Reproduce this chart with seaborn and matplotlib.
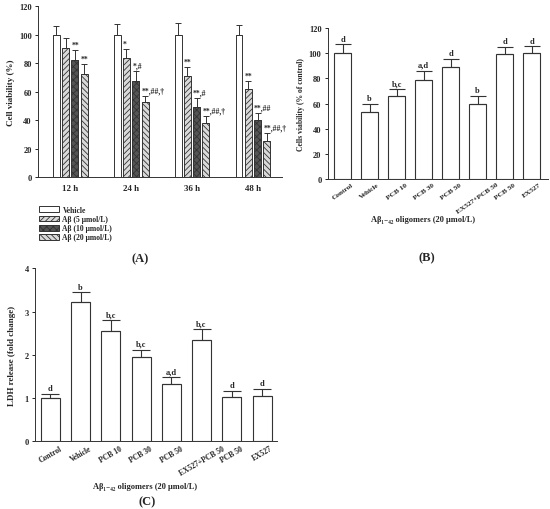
import matplotlib
matplotlib.use("Agg")
import matplotlib.pyplot as plt
from matplotlib.patches import Patch
import numpy as np
import pandas as pd
import seaborn as sns

# ---- panel A: viability over time ----
times = ["12 h", "24 h", "36 h", "48 h"]
groups_a = ["Vehicle", "Aβ (5 μmol/L)", "Aβ (10 μmol/L)", "Aβ (20 μmol/L)"]
viab_a = [[100, 100, 100, 100],
          [90.9, 83.7, 70.7, 61.5],
          [82.2, 67.2, 49.0, 39.7],
          [72.6, 52.4, 37.6, 25.6]]
err_a = [[6.3, 7.5, 8.0, 7.0],
         [7.0, 6.3, 6.3, 6.0],
         [7.0, 7.5, 6.3, 5.0],
         [6.5, 4.7, 5.4, 5.6]]
marks_a = [["", "", "", ""],
           ["", "*", "**", "**"],
           ["**", "*,#", "**,#", "**,##"],
           ["**", "**,##,†", "**,##,†", "**,##,†"]]

# ---- panels B and C: treatments ----
treatments = ["Control", "Vehicle", "PCB 10", "PCB 30", "PCB 50",
              "EX527+PCB 50", "PCB 50", "EX527"]
viab_b = [100, 53, 65.7, 78.4, 88.7, 59.3, 99.3, 99.9]
err_b = [7, 7, 6, 7.7, 7, 7, 6, 5.5]
letters_b = ["d", "b", "b,c", "a,d", "d", "b", "d", "d"]

ldh_c = [1.0, 3.21, 2.56, 1.94, 1.32, 2.34, 1.02, 1.05]
err_c = [0.09, 0.23, 0.24, 0.18, 0.16, 0.26, 0.14, 0.16]
letters_c = ["d", "b", "b,c", "b,c", "a,d", "b,c", "d", "d"]

sns.set_theme(style="ticks")
plt.rcParams["font.family"] = ["Liberation Serif", "DejaVu Serif"]
plt.rcParams["font.weight"] = "bold"
plt.rcParams["hatch.linewidth"] = 0.6
edge = "#333333"

fig = plt.figure(figsize=(5.5, 5.1), dpi=100)

# ---------------- A ----------------
axA = fig.add_axes([0.069, 0.651, 0.444, 0.335])
dfA = pd.DataFrame([(t, g, viab_a[j][i]) for j, g in enumerate(groups_a)
                    for i, t in enumerate(times)], columns=["time", "group", "val"])
sns.barplot(data=dfA, x="time", y="val", hue="group", order=times, hue_order=groups_a,
            palette=["white"] * 4, errorbar=None, width=0.61, gap=0.25,
            edgecolor=edge, linewidth=0.7, legend=False, ax=axA)
styles = [("white", ""), ("#d9d9d9", "//////"), ("#555555", "xxxxx"), ("#d9d9d9", "\\\\\\\\\\\\")]
bar_conts = list(axA.containers)[:4]
for j, cont in enumerate(bar_conts):
    fc, h = styles[j]
    for i, p in enumerate(cont.patches):
        p.set_facecolor(fc)
        p.set_hatch(h)
        p.set_edgecolor(edge)
        xc = p.get_x() + p.get_width() / 2
        top = p.get_height()
        axA.errorbar(xc, top, yerr=[[0], [err_a[j][i]]], fmt="none", ecolor=edge,
                     elinewidth=0.7, capsize=2.5, capthick=0.7)
        if marks_a[j][i]:
            axA.text(p.get_x(), top + err_a[j][i] + 1, marks_a[j][i], ha="left",
                     va="bottom", fontsize=5.5, fontweight="bold")
axA.set_xlim(-0.53, 3.48)
axA.set_ylim(0, 120)
axA.set_yticks(range(0, 121, 20))
axA.set_xlabel("")
axA.set_ylabel("Cell viability (%)", fontsize=6.5, fontweight="bold", labelpad=3)
axA.tick_params(axis="y", labelsize=6, length=2.5, width=0.7, pad=2)
axA.tick_params(axis="x", labelsize=6.5, length=0, pad=5)
sns.despine(ax=axA)
for s in ["left", "bottom"]:
    axA.spines[s].set_linewidth(0.7)
    axA.spines[s].set_color(edge)

handles = [Patch(facecolor=fc, hatch=h, edgecolor=edge, linewidth=0.7) for fc, h in styles]
fig.legend(handles, groups_a, loc="upper left", bbox_to_anchor=(0.065, 0.6),
           frameon=False, fontsize=5.5, handlelength=2.6, handleheight=0.8,
           labelspacing=0.15, handletextpad=0.5, borderaxespad=0)
fig.text(0.255, 0.492, "(A)", ha="center", va="center", fontsize=9, fontweight="bold")


def treatment_panel(ax, vals, errs, letters, capsize, ymax, ystep, letter_off, rot, tsize):
    df = pd.DataFrame({"pos": range(len(vals)), "val": vals})
    sns.barplot(data=df, x="pos", y="val", color="white", errorbar=None, width=0.63,
                edgecolor=edge, linewidth=0.8, ax=ax)
    for i, p in enumerate(list(ax.patches)):
        p.set_facecolor("white")
        xc = p.get_x() + p.get_width() / 2
        top = p.get_height()
        ax.errorbar(xc, top, yerr=[[0], [errs[i]]], fmt="none", ecolor=edge,
                    elinewidth=0.8, capsize=capsize, capthick=0.8)
        ax.text(xc, top + errs[i] + letter_off, letters[i], ha="center", va="bottom",
                fontsize=6, fontweight="bold")
    ax.set_ylim(0, ymax)
    ax.set_yticks(np.arange(0, ymax + 0.001, ystep))
    ax.set_xticks(range(len(vals)))
    ax.set_xticklabels(treatments, rotation=rot, ha="center")
    ax.set_xlabel("")
    ax.tick_params(axis="y", labelsize=6, length=2.5, width=0.7, pad=2)
    ax.tick_params(axis="x", labelsize=tsize, length=0, pad=2)
    sns.despine(ax=ax)
    for s in ["left", "bottom"]:
        ax.spines[s].set_linewidth(0.7)
        ax.spines[s].set_color(edge)


# ---------------- B ----------------
axB = fig.add_axes([0.596, 0.647, 0.4, 0.296])
treatment_panel(axB, viab_b, err_b, letters_b, 6, 120, 20, 1.5, 35, 5.3)
axB.set_xlim(-0.55, 7.6)
axB.set_yticks(range(0, 121, 20))
axB.set_ylabel("Cells viability (% of control)", fontsize=5.5, fontweight="bold", labelpad=3)
axB.plot([0.662, 0.882], [0.584, 0.584], transform=fig.transFigure, color="#555555", lw=0.8)
fig.text(0.77, 0.568, "Aβ₁₋₄₂ oligomers (20 μmol/L)", ha="center", va="center",
         fontsize=6, fontweight="bold")
fig.text(0.776, 0.494, "(B)", ha="center", va="center", fontsize=9, fontweight="bold")

# ---------------- C ----------------
axC = fig.add_axes([0.064, 0.133, 0.44, 0.339])
treatment_panel(axC, ldh_c, err_c, letters_c, 6.8, 4, 1, 0.04, 30, 5.5)
axC.set_xlim(-0.5, 7.5)
axC.set_ylabel("LDH release (fold change)", fontsize=6.5, fontweight="bold", labelpad=6)
axC.plot([0.138, 0.386], [0.061, 0.061], transform=fig.transFigure, color="#555555", lw=0.8)
fig.text(0.264, 0.045, "Aβ₁₋₄₂ oligomers (20 μmol/L)", ha="center", va="center",
         fontsize=6, fontweight="bold")
fig.text(0.267, 0.016, "(C)", ha="center", va="center", fontsize=9, fontweight="bold")

fig.savefig("out.png", dpi=100)
